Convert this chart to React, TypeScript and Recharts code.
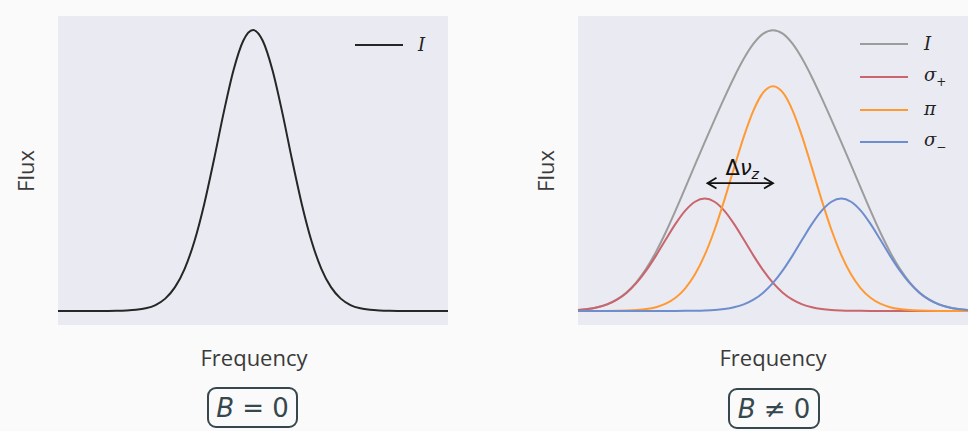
import React from 'react';
import { LineChart, Line, XAxis, YAxis, ReferenceLine } from 'recharts';

// Frequency grid (arbitrary units)
const freq = [0, 2.5, 5, 7.5, 10, 12.5, 15, 17.5, 20, 22.5, 25, 27.5, 30, 32.5, 35, 37.5, 40, 42.5, 45, 47.5, 50,
  52.5, 55, 57.5, 60, 62.5, 65, 67.5, 70, 72.5, 75, 77.5, 80, 82.5, 85, 87.5, 90, 92.5, 95, 97.5, 100];

// Left panel: B = 0, single line profile
const fluxB0 = [0, 0, 0, 0, 0.0001, 0.0002, 0.0005, 0.0015, 0.0039, 0.0094, 0.0211, 0.0439, 0.0847, 0.151, 0.249, 0.381, 0.539, 0.707, 0.857, 0.962, 1,
  0.962, 0.857, 0.707, 0.539, 0.381, 0.249, 0.151, 0.0847, 0.0439, 0.0211, 0.0094, 0.0039, 0.0015, 0.0005, 0.0002, 0.0001, 0, 0, 0, 0];

// Right panel: B != 0, Zeeman components
const sigmaPlus = [0.0033, 0.0068, 0.013, 0.0235, 0.0403, 0.0652, 0.0998, 0.1442, 0.1969, 0.2542, 0.3099, 0.3571, 0.3888, 0.4, 0.3888, 0.3571, 0.3099, 0.2542, 0.1969, 0.1442, 0.0998,
  0.0652, 0.0403, 0.0235, 0.013, 0.0068, 0.0033, 0.0016, 0.0007, 0.0003, 0.0001, 0, 0, 0, 0, 0, 0, 0, 0, 0, 0];
const piComp = [0, 0, 0.0001, 0.0002, 0.0006, 0.0014, 0.0031, 0.0066, 0.0135, 0.0259, 0.047, 0.0806, 0.1304, 0.1995, 0.2883, 0.3938, 0.5083, 0.6198, 0.7142, 0.7777, 0.8,
  0.7777, 0.7142, 0.6198, 0.5083, 0.3938, 0.2883, 0.1995, 0.1304, 0.0806, 0.047, 0.0259, 0.0135, 0.0066, 0.0031, 0.0014, 0.0006, 0.0002, 0.0001, 0, 0];
const sigmaMinus = [0, 0, 0, 0, 0, 0, 0, 0, 0, 0, 0.0001, 0.0003, 0.0007, 0.0016, 0.0033, 0.0068, 0.013, 0.0235, 0.0403, 0.0652,
  0.0998, 0.1442, 0.1969, 0.2542, 0.3099, 0.3571, 0.3888, 0.4, 0.3888, 0.3571, 0.3099, 0.2542, 0.1969, 0.1442, 0.0998, 0.0652, 0.0403, 0.0235, 0.013, 0.0068, 0.0033];
const totalI = [0.0033, 0.0068, 0.0131, 0.0237, 0.0409, 0.0666, 0.1029, 0.1508, 0.2104, 0.2801, 0.357, 0.438, 0.5199, 0.6011, 0.6804, 0.7577, 0.8312, 0.8975, 0.9514, 0.9871, 0.9996,
  0.9871, 0.9514, 0.8975, 0.8312, 0.7577, 0.6804, 0.6011, 0.5199, 0.438, 0.357, 0.2801, 0.2104, 0.1508, 0.1029, 0.0666, 0.0409, 0.0237, 0.0131, 0.0068, 0.0033];

// Zeeman splitting annotation (sigma+ centre to pi centre)
const splitFrom = 33.2;
const splitTo = 50;
const splitLevel = 0.455;

const leftData = freq.map((f, i) => ({ f, I: fluxB0[i] }));
const rightData = freq.map((f, i) => ({ f, I: totalI[i], sp: sigmaPlus[i], pi: piComp[i], sm: sigmaMinus[i] }));

const C_BLACK = '#262626';
const C_I = '#9c9c9c';
const C_SP = '#c9656b';
const C_PI = '#ff9a33';
const C_SM = '#6d8dcd';
const PLOT_BG = '#eaeaf2';
const TEXT = '#3a3a3a';
const MATH = '#36474d';

const W = 460;
const H = 431;
const MARGIN = { top: 16, right: 12, bottom: 106, left: 58 };

const ArrowShape = (p: any) => {
  const { x1, y1, x2, y2 } = p;
  const h = 9;
  const mid = (x1 + x2) / 2;
  return (
    <g>
      <line x1={x1} y1={y1} x2={x2} y2={y2} stroke="#111" strokeWidth={1.8} />
      <polyline points={`${x1 + h},${y1 - h * 0.6} ${x1},${y1} ${x1 + h},${y1 + h * 0.6}`} fill="none" stroke="#111" strokeWidth={1.8} />
      <polyline points={`${x2 - h},${y2 - h * 0.6} ${x2},${y2} ${x2 - h},${y2 + h * 0.6}`} fill="none" stroke="#111" strokeWidth={1.8} />
      <text x={mid + 2} y={y1 - 8} textAnchor="middle" fontFamily="'DejaVu Sans', sans-serif" fontSize={21} fill="#111">
        Δ<tspan fontStyle="italic">ν</tspan><tspan fontStyle="italic" fontSize={14} dy={4}>z</tspan>
      </text>
    </g>
  );
};

const axisText: React.CSSProperties = {
  position: 'absolute',
  fontFamily: "'Open Sans', sans-serif",
  fontSize: 22,
  color: TEXT,
  whiteSpace: 'nowrap',
};

const legendLine = (color: string, top: number, left: number) => (
  <div style={{ position: 'absolute', left, top, width: 48, height: 0, borderTop: `2px solid ${color}` }} />
);

const legendLabel = (content: React.ReactNode, top: number, left: number) => (
  <div style={{ position: 'absolute', left, top, fontFamily: "'DejaVu Serif', serif", fontStyle: 'italic', fontSize: 18, color: '#222', lineHeight: '20px' }}>
    {content}
  </div>
);

const mathBox = (content: React.ReactNode, left: number, top: number, width: number) => (
  <div style={{
    position: 'absolute', left, top, width, height: 37, border: `2px solid ${MATH}`, borderRadius: 9,
    display: 'flex', alignItems: 'center', justifyContent: 'center',
    fontFamily: "'DejaVu Sans', sans-serif", fontSize: 26, color: MATH, whiteSpace: 'nowrap',
  }}>
    {content}
  </div>
);

export default function App() {
  return (
    <div style={{ position: 'fixed', left: 0, top: 0, width: 968, height: 431, background: '#fafafa', overflow: 'hidden' }}>
      {/* Left panel */}
      <div style={{ position: 'absolute', left: 58, top: 16, width: 390, height: 309, background: PLOT_BG }} />
      <div style={{ position: 'absolute', left: 0, top: 0 }}>
        <LineChart width={W} height={H} data={leftData} margin={MARGIN}>
          <XAxis dataKey="f" type="number" domain={[0, 100]} hide />
          <YAxis type="number" domain={[-0.05, 1.05]} hide />
          <Line dataKey="I" type="monotone" stroke={C_BLACK} strokeWidth={2} dot={false} isAnimationActive={false} />
        </LineChart>
      </div>
      {legendLine(C_BLACK, 44, 355)}
      {legendLabel('I', 35, 418)}
      <div style={{ ...axisText, left: 25, top: 171, transform: 'translate(-50%, -50%) rotate(-90deg)' }}>Flux</div>
      <div style={{ ...axisText, left: 254, top: 342, transform: 'translateX(-50%)' }}>Frequency</div>
      {mathBox(<span><i>B</i> = 0</span>, 207, 387, 87)}

      {/* Right panel */}
      <div style={{ position: 'absolute', left: 578, top: 16, width: 390, height: 309, background: PLOT_BG }} />
      <div style={{ position: 'absolute', left: 520, top: 0 }}>
        <LineChart width={W} height={H} data={rightData} margin={MARGIN}>
          <XAxis dataKey="f" type="number" domain={[0, 100]} hide />
          <YAxis type="number" domain={[-0.05, 1.05]} hide />
          <Line dataKey="I" type="monotone" stroke={C_I} strokeWidth={2} dot={false} isAnimationActive={false} />
          <Line dataKey="sp" type="monotone" stroke={C_SP} strokeWidth={2} dot={false} isAnimationActive={false} />
          <Line dataKey="pi" type="monotone" stroke={C_PI} strokeWidth={2} dot={false} isAnimationActive={false} />
          <Line dataKey="sm" type="monotone" stroke={C_SM} strokeWidth={2} dot={false} isAnimationActive={false} />
          <ReferenceLine
            segment={[{ x: splitFrom, y: splitLevel }, { x: splitTo, y: splitLevel }]}
            ifOverflow="visible"
            shape={ArrowShape}
          />
        </LineChart>
      </div>
      {legendLine(C_I, 43, 860)}
      {legendLine(C_SP, 76, 860)}
      {legendLine(C_PI, 109, 860)}
      {legendLine(C_SM, 141, 860)}
      {legendLabel('I', 34, 924)}
      {legendLabel(<span>σ<sub style={{ fontSize: 12, fontStyle: 'normal' }}>+</sub></span>, 65, 924)}
      {legendLabel('π', 99, 924)}
      {legendLabel(<span>σ<sub style={{ fontSize: 12, fontStyle: 'normal' }}>−</sub></span>, 130, 924)}
      <div style={{ ...axisText, left: 545, top: 171, transform: 'translate(-50%, -50%) rotate(-90deg)' }}>Flux</div>
      <div style={{ ...axisText, left: 773, top: 342, transform: 'translateX(-50%)' }}>Frequency</div>
      {mathBox(<span><i>B</i> ≠ 0</span>, 728, 388, 88)}
    </div>
  );
}
